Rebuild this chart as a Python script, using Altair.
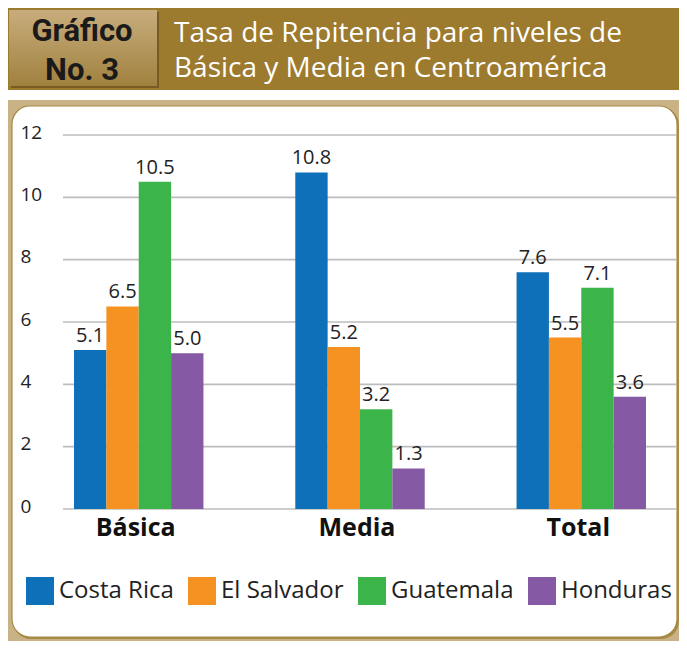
import altair as alt
import pandas as pd

niveles = ["Básica", "Media", "Total"]
paises = ["Costa Rica", "El Salvador", "Guatemala", "Honduras"]
costa_rica = [5.1, 10.8, 7.6]
el_salvador = [6.5, 5.2, 5.5]
guatemala = [10.5, 3.2, 7.1]
honduras = [5.0, 1.3, 3.6]
colores = ["#0E70B9", "#F59222", "#3BB54A", "#8559A4"]
y_ticks = [0, 2, 4, 6, 8, 10, 12]

series = [costa_rica, el_salvador, guatemala, honduras]
rows = []
for p, vals in zip(paises, series):
    for n, v in zip(niveles, vals):
        rows.append({"nivel": n, "pais": p, "valor": v})
df = pd.DataFrame(rows)
grid_df = pd.DataFrame({"t": y_ticks})
one = pd.DataFrame({"k": [0]})

W, H = 613, 374
FONT = "Open Sans"

# decorations (coordinates relative to plot area)
header = alt.Chart(one).mark_rect(color="#9C7A2E").encode(
    x=alt.value(-60), x2=alt.value(630), y=alt.value(-127), y2=alt.value(-45))
box_shadow = alt.Chart(one).mark_rect(color="#6E5421", opacity=0.8).encode(
    x=alt.value(-52), x2=alt.value(96), y=alt.value(-123), y2=alt.value(-47))
box = alt.Chart(one).mark_rect(
    fill=alt.Gradient(gradient="linear", x1=0, y1=0, x2=0, y2=1,
                      stops=[alt.GradientStop(color="#C8AD7C", offset=0),
                             alt.GradientStop(color="#A0813F", offset=1)])
).encode(x=alt.value(-54), x2=alt.value(94), y=alt.value(-125), y2=alt.value(-49))
g_text = alt.Chart(one).mark_text(font="Roboto", fontWeight="bold", fontSize=31,
                                  color="#1A1A1A", align="center", baseline="alphabetic",
                                  lineBreak="\n", lineHeight=39).encode(
    x=alt.value(19), y=alt.value(-94), text=alt.value("Gráfico\nNo. 3"))
title = alt.Chart(one).mark_text(font=FONT, fontSize=28, color="white",
                                 align="left", baseline="alphabetic",
                                 lineBreak="\n", lineHeight=35).encode(
    x=alt.value(111), y=alt.value(-93),
    text=alt.value("Tasa de Repitencia para niveles de\nBásica y Media en Centroamérica"))
frame = alt.Chart(one).mark_rect(color="#C9B286").encode(
    x=alt.value(-56), x2=alt.value(630), y=alt.value(-35), y2=alt.value(520))
panel_shadow = alt.Chart(one).mark_rect(color="#A88A45", cornerRadius=18).encode(
    x=alt.value(-50), x2=alt.value(616), y=alt.value(-28), y2=alt.value(504))
panel = alt.Chart(one).mark_rect(fill="white", stroke="#A88A45", strokeWidth=1.2,
                                 cornerRadius=18).encode(
    x=alt.value(-51), x2=alt.value(614), y=alt.value(-29), y2=alt.value(502))

yscale = alt.Scale(domain=[0, 12], nice=False, zero=True)
yaxis = alt.Axis(values=y_ticks, grid=False, domain=False, ticks=False,
                 labelAlign="left", labelPadding=43, labelFontSize=19,
                 labelFont=FONT, labelColor="#222", labelBaseline="alphabetic",
                 labelOffset=3, title=None, zindex=1)

grid = alt.Chart(grid_df).mark_rule(color="#BDBDBD", strokeWidth=1.6).encode(
    y=alt.Y("t:Q", scale=yscale, axis=yaxis),
    x=alt.value(0), x2=alt.value(W))

xenc = alt.X("nivel:N", sort=niveles,
             scale=alt.Scale(range=[11, 583], paddingInner=0.415, paddingOuter=0),
             axis=alt.Axis(title=None, labelAngle=0, domain=False, ticks=False,
                           labelFontSize=25, labelFont=FONT, labelFontWeight="bold",
                           labelColor="#111", labelPadding=6, labelOffset=-3, zindex=1))
xoff = alt.XOffset("pais:N", sort=paises,
                   scale=alt.Scale(paddingInner=0, paddingOuter=0))

bars = alt.Chart(df).mark_bar().encode(
    x=xenc, xOffset=xoff,
    y=alt.Y("valor:Q", scale=yscale, axis=yaxis),
    color=alt.Color("pais:N", sort=paises,
                    scale=alt.Scale(domain=paises, range=colores),
                    legend=alt.Legend(title=None, orient="none", legendX=-37, legendY=442,
                                      direction="horizontal", symbolType="square",
                                      symbolSize=784, symbolStrokeWidth=0, symbolOpacity=1,
                                      labelFontSize=24, labelFont=FONT, labelColor="#222",
                                      labelOffset=5, columnPadding=14, padding=0,
                                      zindex=1)))

labels = alt.Chart(df).mark_text(fontSize=20, font=FONT, color="#222",
                                 baseline="alphabetic", dy=-8).encode(
    x=xenc, xOffset=xoff,
    y=alt.Y("valor:Q", scale=yscale, axis=yaxis),
    text=alt.Text("valor:Q", format=".1f"))

chart = alt.layer(header, box_shadow, box, g_text, title, frame, panel_shadow, panel,
                  grid, bars, labels).properties(
    width=W, height=H,
    autosize=alt.AutoSizeParams(type="none"),
    padding={"left": 55, "top": 127, "right": 3, "bottom": 132},
).configure_view(stroke=None).configure(background="white")

chart.save("out.html", embed_options={"renderer": "svg", "actions": False})
